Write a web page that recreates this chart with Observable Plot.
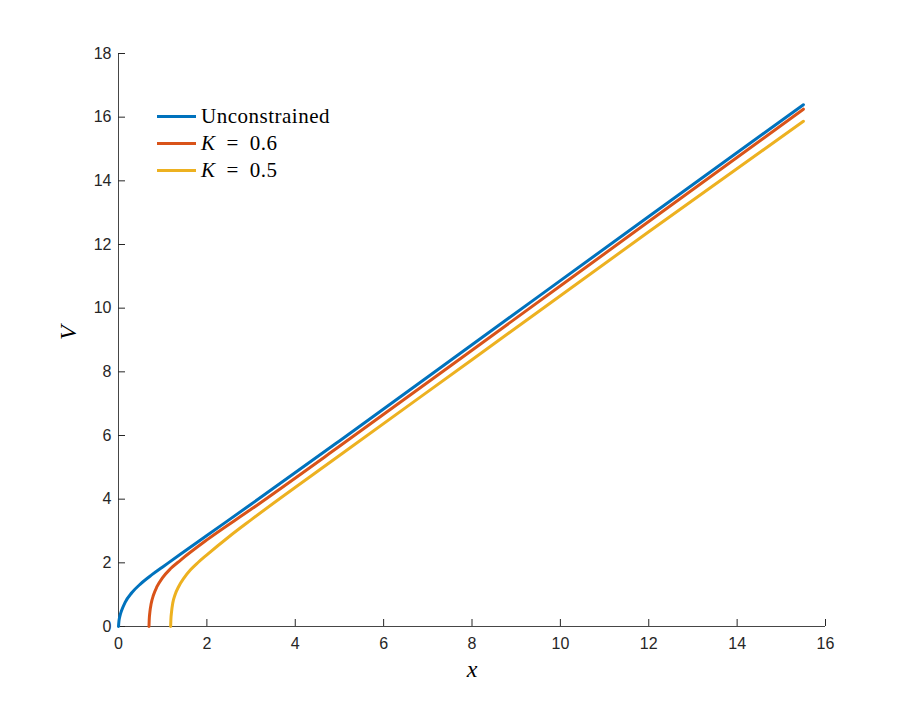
<!DOCTYPE html>
<html>
<head>
<meta charset="utf-8">
<script src="https://cdn.jsdelivr.net/npm/d3@7"></script>
<script src="https://cdn.jsdelivr.net/npm/@observablehq/plot@0.6"></script>
<style>
  body { margin: 0; background: #fff; }
  #wrap { position: relative; width: 912px; height: 702px; }
  #legend { position: absolute; left: 0; top: 0; font-family: "Liberation Serif", "DejaVu Serif", serif; font-size: 21px; letter-spacing: 0.5px; color: #000; }
  .row { position: absolute; height: 26px; line-height: 26px; white-space: nowrap; }
  .swatch { position: absolute; left: 0; top: 11.5px; width: 39px; height: 3px; }
  .lbl { position: absolute; left: 44px; top: 0; }
</style>
</head>
<body>
<div id="wrap"></div>
<script>
// ---- data ----
const seriesNames = ["Unconstrained", "K = 0.6", "K = 0.5"];
const seriesColors = ["#0072BD", "#D95319", "#EDB120"];

const xUnconstrained = [0, 0.01, 0.03, 0.07, 0.15, 0.3, 0.5, 0.75, 1.0, 1.4, 2.0, 3, 5, 8, 12, 15.5];
const vUnconstrained = [0, 0.17, 0.32, 0.5, 0.76, 1.06, 1.34, 1.62, 1.87, 2.27, 2.86, 3.84, 5.83, 8.85, 12.88, 16.39];

const xK06 = [0.69, 0.695, 0.71, 0.74, 0.79, 0.87, 0.99, 1.18, 1.4, 2.0, 3, 5, 8, 12, 15.5];
const vK06 = [0, 0.2, 0.45, 0.72, 0.98, 1.25, 1.52, 1.82, 2.08, 2.72, 3.68, 5.66, 8.68, 12.72, 16.25];

const xK05 = [1.18, 1.185, 1.2, 1.23, 1.28, 1.36, 1.48, 1.63, 1.8, 2.0, 2.5, 3, 5, 8, 12, 15.5];
const vK05 = [0, 0.2, 0.45, 0.75, 1.0, 1.25, 1.52, 1.78, 2.01, 2.25, 2.82, 3.35, 5.37, 8.38, 12.4, 15.87];

const xTicks = [0, 2, 4, 6, 8, 10, 12, 14, 16];
const yTicks = [0, 2, 4, 6, 8, 10, 12, 14, 16, 18];
const xLabel = "x";
const yLabel = "V";

// ---- build table ----
const xs = [xUnconstrained, xK06, xK05];
const vs = [vUnconstrained, vK06, vK05];
const data = [];
seriesNames.forEach((name, i) => {
  xs[i].forEach((x, j) => data.push({series: name, x, v: vs[i][j]}));
});

const axisColor = "#262626";
const tickFont = "Liberation Sans, Arial, sans-serif";
const serif = "Liberation Serif, DejaVu Serif, serif";

const W = 912, H = 702, mL = 118, mR = 87, mT = 53, mB = 76;
const frameW = W - mL - mR, frameH = H - mT - mB, tick = 7;

const chart = Plot.plot({
  width: W,
  height: H,
  marginLeft: mL,
  marginRight: mR,
  marginTop: mT,
  marginBottom: mB,
  style: {background: "#fff", overflow: "visible"},
  x: {domain: [0, 16]},
  y: {domain: [0, 18]},
  color: {domain: seriesNames, range: seriesColors},
  marks: [
    Plot.axisX(xTicks, {tickSize: 0, tickPadding: 11, fontSize: 16, fontFamily: tickFont, color: axisColor, label: null}),
    Plot.axisY(yTicks, {tickSize: 0, tickPadding: 7, fontSize: 16, fontFamily: tickFont, color: axisColor, label: null}),
    Plot.tickX(xTicks, {x: d => d, stroke: axisColor, strokeWidth: 1, insetTop: frameH - tick}),
    Plot.tickY(yTicks, {y: d => d, stroke: axisColor, strokeWidth: 1, insetRight: frameW - tick}),
    Plot.ruleX([0], {stroke: axisColor, strokeWidth: 1, strokeOpacity: 0.85}),
    Plot.ruleY([0], {stroke: axisColor, strokeWidth: 1, strokeOpacity: 0.85}),
    Plot.line(data, {x: "x", y: "v", z: "series", stroke: "series", strokeWidth: 3, curve: "monotone-x"}),
    Plot.text([xLabel], {text: d => d, frameAnchor: "bottom", dy: 50, fontSize: 24, fontStyle: "italic", fontFamily: serif, fill: "#000"}),
    Plot.text([yLabel], {text: d => d, frameAnchor: "left", dx: -50, rotate: -90, fontSize: 24, fontStyle: "italic", fontFamily: serif, fill: "#000"})
  ]
});

const wrap = document.getElementById("wrap");
wrap.appendChild(chart);

// legend overlay
const legend = document.createElement("div");
legend.id = "legend";
const rowCenters = [116, 143, 170];
seriesNames.forEach((name, i) => {
  const row = document.createElement("div");
  row.className = "row";
  row.style.left = "157px";
  row.style.top = (rowCenters[i] - 13) + "px";
  const sw = document.createElement("div");
  sw.className = "swatch";
  sw.style.background = seriesColors[i];
  const lbl = document.createElement("div");
  lbl.className = "lbl";
  if (name.startsWith("K")) {
    const k = document.createElement("i");
    k.textContent = "K";
    lbl.appendChild(k);
    lbl.appendChild(document.createTextNode(name.slice(1).replace(" = ", "\u2002=\u2002")));
  } else {
    lbl.textContent = name;
  }
  row.appendChild(sw);
  row.appendChild(lbl);
  legend.appendChild(row);
});
wrap.appendChild(legend);
</script>
</body>
</html>
